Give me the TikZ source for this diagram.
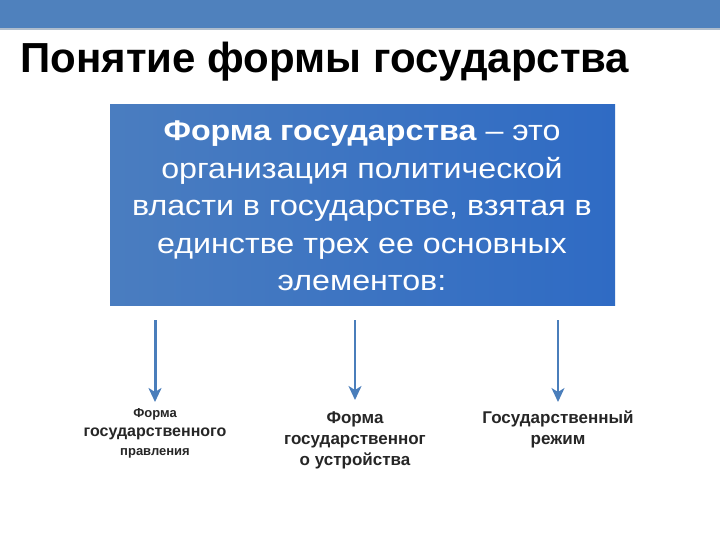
\documentclass[tikz,border=0pt]{standalone}
\usepackage{fontspec}
\setmainfont{Liberation Sans}
\usetikzlibrary{arrows.meta}
\definecolor{bar}{HTML}{4F81BD}
\definecolor{boxA}{HTML}{4A7DC0}
\definecolor{boxB}{HTML}{2F6BC4}
\definecolor{arr}{HTML}{4A7EBB}
\begin{document}
\begin{tikzpicture}[x=1pt,y=-1pt,
  lbl/.style={align=center,font=\bfseries,text=black!85},
  arrw/.style={draw=arr,-{Stealth[length=14pt,width=13pt,inset=4pt]}}]
\useasboundingbox (0,0) rectangle (720,540);
\fill[white] (0,0) rectangle (720,540);
\fill[bar] (0,0) rectangle (720,28);
\fill[bar!70!black,opacity=0.4] (0,28) rectangle (720,30);
\node[anchor=west,font=\fontsize{42}{44}\selectfont\bfseries] (title) at (17,62) {Понятие формы государства};
\shade[left color=boxA,right color=boxB] (110,105) rectangle (615,305);
\node[align=center,text=white,font=\fontsize{28.5}{37.5}\selectfont,xscale=1.13] (main) at (362,206)
 {\textbf{Форма государства} – это\\организация политической\\власти в государстве, взятая в\\единстве трех ее основных\\элементов:};
\coordinate (a1) at (155,320); \coordinate (a2) at (355,320); \coordinate (a3) at (558,320);
\node[lbl,font=\fontsize{16}{19}\selectfont\bfseries] (l1) at (155,433) {{\fontsize{13}{16}\selectfont Форма}\\государственного\\{\fontsize{13}{19}\selectfont правления}};
\node[lbl,font=\fontsize{17}{21}\selectfont\bfseries] (l2) at (355,440) {Форма\\государственног\\о устройства};
\node[lbl,font=\fontsize{17}{21}\selectfont\bfseries] (l3) at (558,429) {Государственный\\режим};
\draw[arrw,line width=3pt] (a1) -- (155,402);
\draw[arrw,line width=1.8pt] (a2) -- (355,400);
\draw[arrw,line width=1.5pt] (a3) -- (558,402);
\end{tikzpicture}
\end{document}
